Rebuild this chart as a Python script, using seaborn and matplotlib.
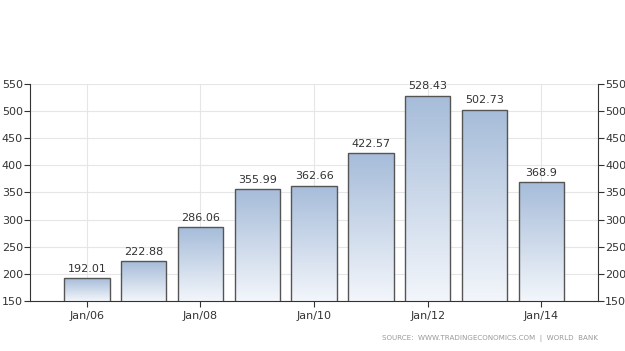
import numpy as np
import pandas as pd
import matplotlib
matplotlib.use("Agg")
import matplotlib.pyplot as plt
import seaborn as sns
from matplotlib.colors import LinearSegmentedColormap

years = ["2006", "2007", "2008", "2009", "2010", "2011", "2012", "2013", "2014"]
values = [192.01, 222.88, 286.06, 355.99, 362.66, 422.57, 528.43, 502.73, 368.9]
value_labels = ["192.01", "222.88", "286.06", "355.99", "362.66", "422.57", "528.43", "502.73", "368.9"]
tick_labels = ["Jan/06", "Jan/08", "Jan/10", "Jan/12", "Jan/14"]
tick_years = ["2006", "2008", "2010", "2012", "2014"]
yticks = [150, 200, 250, 300, 350, 400, 450, 500, 550]

sns.set_style("white")
plt.rcParams["font.family"] = ["DejaVu Sans"]

df = pd.DataFrame({"year": years, "value": values})

fig = plt.figure(figsize=(6.25, 3.51), dpi=100)
ax = fig.add_axes([0.048, 0.1425, 0.909, 0.6185])

sns.barplot(data=df, x="year", y="value", ax=ax, width=0.8,
            color="white", edgecolor="#555555", linewidth=1.0, zorder=3)

ax.set_ylim(150, 550)
ax.set_xlim(-1, len(years))

# gradient fills
grad = np.linspace(0, 1, 256).reshape(-1, 1)
cmap = LinearSegmentedColormap.from_list("g", ["#f3f6fb", "#a6bcd9"])
for p in ax.patches:
    x0, y0 = p.get_x(), p.get_y()
    w, h = p.get_width(), p.get_height()
    im = ax.imshow(grad, extent=[x0, x0 + w, 150, y0 + h], origin="lower",
                   cmap=cmap, aspect="auto", zorder=2.5, interpolation="bicubic")
    im.set_clip_path(p)
    p.set_facecolor("none")
ax.set_xlim(-1, len(years))
ax.set_ylim(150, 550)

for i, (v, lab) in enumerate(zip(values, value_labels)):
    ax.text(i, v + 8, lab, ha="center", va="bottom", fontsize=8, color="#333333", zorder=4)

pos = [years.index(t) for t in tick_years]
ax.set_xticks(pos)
ax.set_xticklabels(tick_labels, fontsize=8, color="#333333")
ax.set_yticks(yticks)
ax.set_yticklabels([str(t) for t in yticks], fontsize=8, color="#333333")
ax.set_xlabel("")
ax.set_ylabel("")
ax.grid(True, color="#e6e6e6", linewidth=0.8, zorder=0)
ax.set_axisbelow(True)

ax.spines["top"].set_visible(False)
ax.spines["left"].set_color("#333333")
ax.spines["right"].set_color("#333333")
ax.spines["bottom"].set_color("#333333")
ax.tick_params(axis="y", which="both", left=True, right=True, labelright=True,
               length=4, width=0.8, color="#333333", pad=1)
ax.tick_params(axis="x", bottom=True, length=4, width=0.8, color="#333333", pad=3)

fig.text(0.957, 0.035, "SOURCE:  WWW.TRADINGECONOMICS.COM  |  WORLD  BANK",
         ha="right", va="center", fontsize=5.1, color="#999999")

fig.savefig("out.png", dpi=100)
